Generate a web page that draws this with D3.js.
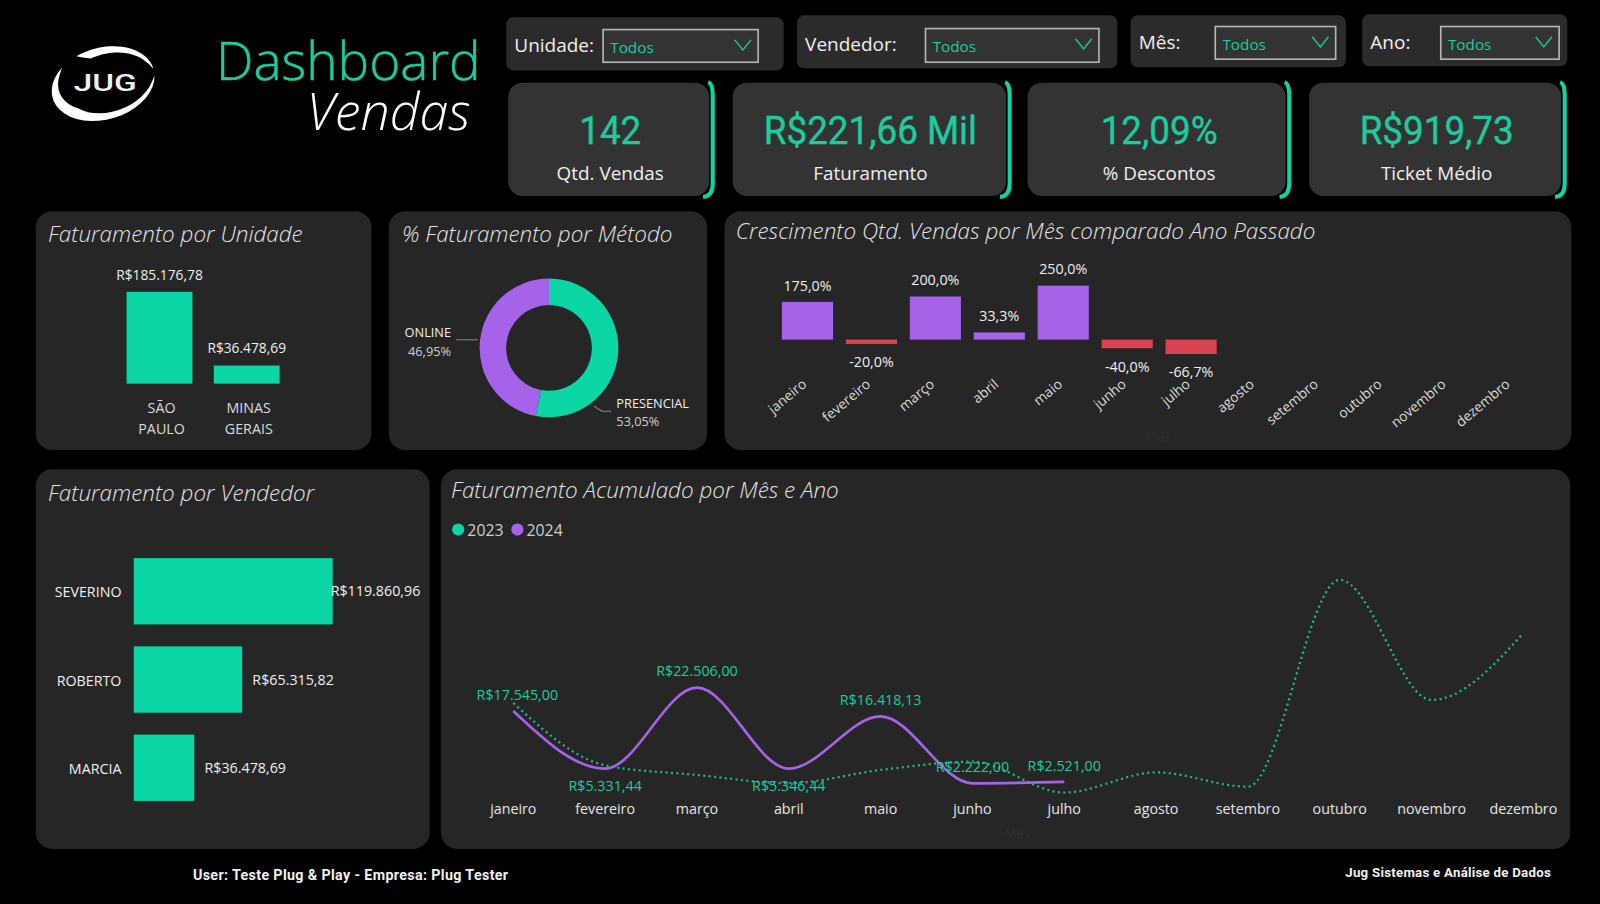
<!DOCTYPE html>
<html>
<head>
<meta charset="utf-8">
<script src="https://cdn.jsdelivr.net/npm/d3@7"></script>
<style>
  html, body { margin: 0; padding: 0; background: #000; overflow: hidden; }
  svg { display: block; }
  text { font-family: "Open Sans", "Noto Sans", sans-serif; fill: #f0f0f0; }
  .titulo { font-style: italic; font-weight: 300; font-size: 22px; fill: #e4e4e4; }
  .din { font-family: "Roboto", sans-serif; }
</style>
</head>
<body>
<svg id="chart"></svg>
<script>
// filtros e cartoes
const filtros = ["Unidade:", "Vendedor:", "Mês:", "Ano:"]
const kpiValores = ["142", "R$221,66 Mil", "12,09%", "R$919,73"]
const kpiNomes = ["Qtd. Vendas", "Faturamento", "% Descontos", "Ticket Médio"]

// faturamento por unidade
const unidades = ["SÃO PAULO", "MINAS GERAIS"]
const unidadesValores = [185176.78, 36478.69]

// metodo
const metodos = ["PRESENCIAL", "ONLINE"]
const metodosValores = [53.05, 46.95]

// crescimento
const meses = ["janeiro", "fevereiro", "março", "abril", "maio", "junho", "julho", "agosto", "setembro", "outubro", "novembro", "dezembro"]
const crescimento = [175, -20, 200, 33.3, 250, -40, -66.7]

// vendedores
const vendedores = ["SEVERINO", "ROBERTO", "MARCIA"]
const vendedoresValores = [119860.96, 65315.82, 36478.69]

// acumulado
const fat2024 = [17545, 5331.44, 22506, 5346.44, 16418.13, 2222, 2521]
const fat2023 = [19260, 6060, 4000, 2250, 5060, 6820, 260, 4540, 1510, 45370, 19910, 34070]

const verde = "#0cd6a6"
const verdeTexto = "#1ccb9e"
const roxo = "#a463e8"
const vermelho = "#d94452"
const painel = "#262626"
const cartao = "#333333"

const svg = d3.select("#chart")
  .attr("width", 1600)
  .attr("height", 904)
  .attr("viewBox", "0 0 1568 886")

svg.append("rect").attr("width", 1568).attr("height", 886).attr("fill", "#000")

const fmtBR = d3.formatLocale({ decimal: ",", thousands: ".", grouping: [3], currency: ["R$", ""], minus: "-" })
const fmtReal = fmtBR.format("$,.2f")
const fmtPct = fmtBR.format(",.1f")

function box(x, y, w, h, r, cor) {
  return svg.append("rect").attr("x", x).attr("y", y).attr("width", w).attr("height", h).attr("rx", r).attr("fill", cor)
}

// LOGO
// meia lua: afina nas pontas, raio externo fixo
function crescente(a0, a1, esp, pico) {
  const passos = d3.range(0, 1.001, 0.04)
  const raio = d3.lineRadial().curve(d3.curveLinear)
  const fora = passos.map(function(u) { return [a0 + (a1 - a0) * u, 44] })
  const dentro = passos.slice().reverse().map(function(u) {
    const t = u < pico ? u / pico : (1 - u) / (1 - pico)
    return [a0 + (a1 - a0) * u, 44 - esp * Math.pow(t, 0.7)]
  })
  return raio(fora.concat(dentro)) + "Z"
}
const logo = svg.append("g").attr("transform", "translate(101,82) rotate(-16) scale(1.17,0.80)")
logo.append("path").attr("fill", "#fff").attr("d", crescente(1.75, 5.55, 11, 0.6))
logo.append("path").attr("fill", "#fff").attr("d", crescente(-0.35, 1.55, 10, 0.12))
svg.append("text").attr("transform", "translate(103,89) scale(1.42,1)").attr("text-anchor", "middle")
  .attr("font-size", 23).attr("font-weight", 500).style("font-family", "Roboto").text("JUG")

// TITULO
svg.append("text").attr("x", 471).attr("y", 78).attr("text-anchor", "end")
  .attr("font-size", 52).attr("font-weight", 300).style("fill", verdeTexto).style("stroke", verdeTexto).style("stroke-width", 0.5).text("Dashboard")
svg.append("text").attr("x", 461).attr("y", 127).attr("text-anchor", "end")
  .attr("font-size", 51).attr("font-weight", 300).attr("font-style", "italic").style("fill", "#fff").text("Vendas")

// FILTROS
const filtroCards = [[496, 17, 272, 52], [781, 15, 314, 52], [1108, 15, 211, 51], [1335, 14, 201, 51]]
const filtroBoxes = [[591, 29, 152, 32], [907, 28, 170, 33], [1191, 26, 118, 32], [1412, 26, 116, 32]]
filtros.forEach(function(f, i) {
  const c = filtroCards[i], b = filtroBoxes[i]
  box(c[0], c[1], c[2], c[3], 7, "#2b2b2b")
  svg.append("text").attr("x", c[0] + 8).attr("y", b[1] + 22).attr("font-size", 18.6).text(f)
  box(b[0], b[1], b[2], b[3], 0, "#333").attr("stroke", "#b5b5b5").attr("stroke-width", 1.6)
  svg.append("text").attr("x", b[0] + 7).attr("y", b[1] + 23).attr("font-size", 15).style("fill", verdeTexto).text("Todos")
  const cx = b[0] + b[2] - 15, cy = b[1] + 15
  svg.append("path").attr("d", d3.line()([[cx - 8, cy - 5], [cx, cy + 5], [cx + 8, cy - 5]]))
    .attr("fill", "none").attr("stroke", verdeTexto).attr("stroke-width", 1.3)
})

// KPIS
const kpiPos = [[498, 197, 598], [718, 268, 853], [1007, 253, 1136], [1283, 247, 1408]]
kpiValores.forEach(function(v, i) {
  const p = kpiPos[i]
  const dir = p[0] + p[1]
  box(p[0], 81, p[1], 111, 14, cartao)
  // friso verde do lado direito
  const friso = d3.path()
  friso.moveTo(dir - 1, 80.5)
  friso.quadraticCurveTo(dir + 3.5, 82, dir + 3.5, 93)
  friso.lineTo(dir + 3.5, 180)
  friso.quadraticCurveTo(dir + 3.5, 192, dir - 6, 193)
  svg.append("path").attr("d", friso.toString()).attr("fill", "none").attr("stroke", verde).attr("stroke-width", 4)
  svg.append("text").attr("class", "din").attr("transform", "translate(" + p[2] + ",141) scale(0.95,1)").attr("text-anchor", "middle")
    .attr("font-size", 38).attr("font-weight", 400).style("fill", verdeTexto).style("stroke", verdeTexto).style("stroke-width", 0.4).text(v)
  svg.append("text").attr("x", p[2]).attr("y", 176).attr("text-anchor", "middle")
    .attr("font-size", 18.5).text(kpiNomes[i])
})

// PAINEIS
box(35, 207, 329, 234, 16, painel)
box(381, 207, 312, 234, 16, painel)
box(710, 207, 830, 234, 16, painel)
box(35, 460, 386, 372, 16, painel)
box(432, 460, 1107, 372, 16, painel)

svg.append("text").attr("class", "titulo").attr("x", 47).attr("y", 237).text("Faturamento por Unidade")
svg.append("text").attr("class", "titulo").attr("x", 394).attr("y", 237).text("% Faturamento por Método")
svg.append("text").attr("class", "titulo").attr("x", 721).attr("y", 234).text("Crescimento Qtd. Vendas por Mês comparado Ano Passado")
svg.append("text").attr("class", "titulo").attr("x", 47).attr("y", 491).text("Faturamento por Vendedor")
svg.append("text").attr("class", "titulo").attr("x", 442).attr("y", 488).text("Faturamento Acumulado por Mês e Ano")

// UNIDADE
const xUni = d3.scaleBand().domain(unidades).range([124, 274]).paddingInner(0.245).paddingOuter(0)
const yUni = d3.scaleLinear().domain([0, d3.max(unidadesValores)]).range([376, 286])

svg.append("g").selectAll("rect")
  .data(unidades)
  .join("rect")
  .attr("x", function(d) { return xUni(d) })
  .attr("width", xUni.bandwidth())
  .attr("y", function(d, i) { return yUni(unidadesValores[i]) })
  .attr("height", function(d, i) { return yUni(0) - yUni(unidadesValores[i]) })
  .attr("fill", verde)

unidades.forEach(function(u, i) {
  const cx = xUni(u) + xUni.bandwidth() / 2
  svg.append("text").attr("x", cx).attr("y", yUni(unidadesValores[i]) - 12).attr("text-anchor", "middle")
    .attr("font-size", 13.5).text(fmtReal(unidadesValores[i]))
  u.split(" ").forEach(function(parte, j) {
    svg.append("text").attr("x", cx + 2).attr("y", 405 + j * 20).attr("text-anchor", "middle")
      .attr("font-size", 14).style("fill", "#dcdcdc").text(parte)
  })
})

// DONUT
const pie = d3.pie().sort(null)
const arco = d3.arc().innerRadius(42).outerRadius(68)
const donut = svg.append("g").attr("transform", "translate(538,341)")
donut.selectAll("path")
  .data(pie(metodosValores))
  .join("path")
  .attr("d", arco)
  .attr("fill", function(d, i) { return i == 0 ? verde : roxo })

svg.append("path").attr("d", d3.line()([[447, 333], [468, 333]])).attr("fill", "none").attr("stroke", "#8a8a8a")
svg.append("path").attr("d", d3.line()([[582, 398], [590, 403], [599, 403]])).attr("fill", "none").attr("stroke", "#8a8a8a")
svg.append("text").attr("x", 442).attr("y", 330).attr("text-anchor", "end").attr("font-size", 12.5).text(metodos[1])
svg.append("text").attr("x", 442).attr("y", 349).attr("text-anchor", "end").attr("font-size", 12.5).style("fill", "#cfcfcf").text(fmtBR.format(",.2f")(metodosValores[1]) + "%")
svg.append("text").attr("x", 604).attr("y", 400).attr("font-size", 12.5).text(metodos[0])
svg.append("text").attr("x", 604).attr("y", 418).attr("font-size", 12.5).style("fill", "#cfcfcf").text(fmtBR.format(",.2f")(metodosValores[0]) + "%")

// CRESCIMENTO
const xCres = d3.scaleBand().domain(meses).range([760, 1512]).paddingInner(0.2).paddingOuter(0.1)
const yCres = d3.scaleLinear().domain([-100, 250]).range([354, 280])

svg.append("g").selectAll("rect")
  .data(crescimento)
  .join("rect")
  .attr("x", function(d, i) { return xCres(meses[i]) })
  .attr("width", xCres.bandwidth())
  .attr("y", function(d) { return d > 0 ? yCres(d) : yCres(0) })
  .attr("height", function(d) { return Math.abs(yCres(d) - yCres(0)) })
  .attr("fill", function(d) { return d > 0 ? roxo : vermelho })

crescimento.forEach(function(d, i) {
  svg.append("text")
    .attr("x", xCres(meses[i]) + xCres.bandwidth() / 2)
    .attr("y", d > 0 ? yCres(d) - 11 : yCres(d) + 23)
    .attr("text-anchor", "middle").attr("font-size", 14)
    .text(fmtPct(d) + "%")
})

meses.forEach(function(m) {
  const cx = xCres(m) + xCres.bandwidth() / 2
  svg.append("text")
    .attr("transform", "translate(" + cx + ",378) rotate(-40)")
    .attr("text-anchor", "end").attr("font-size", 13.5).style("fill", "#dcdcdc").text(m)
})
svg.append("text").attr("x", 1135).attr("y", 432).attr("text-anchor", "middle").attr("font-size", 13).style("fill", "#2e2e2e").text("Mês")

// VENDEDOR
const yVend = d3.scaleBand().domain(vendedores).range([547, 785]).paddingInner(0.2486).paddingOuter(0)
const xVend = d3.scaleLinear().domain([0, d3.max(vendedoresValores)]).range([131, 326])

svg.append("g").selectAll("rect")
  .data(vendedores)
  .join("rect")
  .attr("x", xVend(0))
  .attr("y", function(d) { return yVend(d) })
  .attr("width", function(d, i) { return xVend(vendedoresValores[i]) - xVend(0) })
  .attr("height", yVend.bandwidth())
  .attr("fill", verde)

vendedores.forEach(function(v, i) {
  const cy = yVend(v) + yVend.bandwidth() / 2
  svg.append("text").attr("x", 119).attr("y", cy + 6).attr("text-anchor", "end").attr("font-size", 14).text(v)
  svg.append("text").attr("x", Math.min(xVend(vendedoresValores[i]) + 10, 324)).attr("y", cy + 5)
    .attr("font-size", 14).text(fmtReal(vendedoresValores[i]))
})

// ACUMULADO
const xAcum = d3.scalePoint().domain(meses).range([503, 1493])
const yAcum = d3.scaleLinear().domain([0, 22506]).range([778, 674])
const linha = d3.line()
  .x(function(d, i) { return xAcum(meses[i]) })
  .y(function(d) { return yAcum(d) })
  .curve(d3.curveMonotoneX)

svg.append("path").datum(fat2023).attr("d", linha)
  .attr("fill", "none").attr("stroke", "#1fb893").attr("stroke-width", 2.2).attr("stroke-dasharray", "2 3.3")
svg.append("path").datum(fat2024).attr("d", linha)
  .attr("fill", "none").attr("stroke", roxo).attr("stroke-width", 2.6)

const rotuloAbaixo = [false, true, false, true, false, false, false]
fat2024.forEach(function(v, i) {
  svg.append("text").attr("x", xAcum(meses[i]) + (i == 0 ? 4 : 0))
    .attr("y", rotuloAbaixo[i] ? yAcum(v) + 22 : yAcum(v) - 11)
    .attr("text-anchor", "middle").attr("font-size", 14).style("fill", verdeTexto)
    .text(fmtReal(v))
})

meses.forEach(function(m) {
  svg.append("text").attr("x", xAcum(m)).attr("y", 798).attr("text-anchor", "middle")
    .attr("font-size", 14).style("fill", "#e6e6e6").text(m)
})
svg.append("text").attr("x", 997).attr("y", 821).attr("text-anchor", "middle").attr("font-size", 13).style("fill", "#2e2e2e").text("Mês")

// legenda
const legenda = [["2023", verde, 449], ["2024", roxo, 507]]
legenda.forEach(function(l) {
  svg.append("circle").attr("cx", l[2]).attr("cy", 519).attr("r", 6).attr("fill", l[1])
  svg.append("text").attr("x", l[2] + 9).attr("y", 525).attr("font-size", 15.5).style("fill", "#cfcfcf").text(l[0])
})

// RODAPE
svg.append("text").attr("class", "din").attr("x", 189).attr("y", 862).attr("font-size", 14).attr("font-weight", 700).attr("letter-spacing", 0.35).text("User: Teste Plug & Play - Empresa: Plug Tester")
svg.append("text").attr("class", "din").attr("x", 1520).attr("y", 860).attr("text-anchor", "end").attr("font-size", 13).attr("font-weight", 700).attr("letter-spacing", 0.25).text("Jug Sistemas e Análise de Dados")
</script>
</body>
</html>
